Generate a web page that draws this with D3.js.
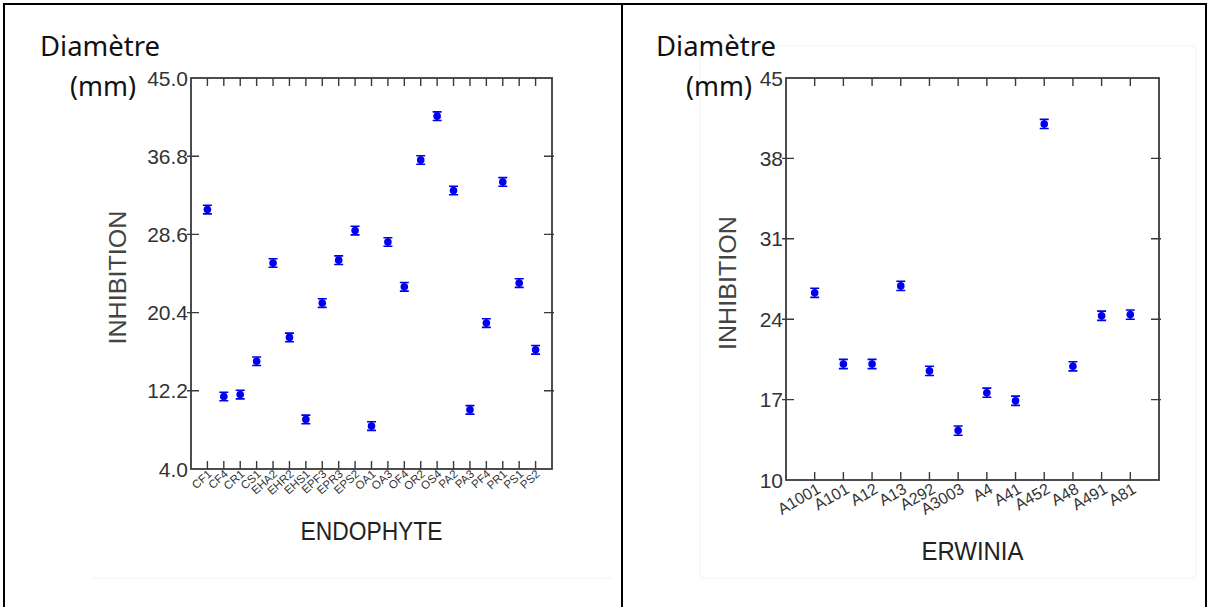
<!DOCTYPE html>
<html>
<head>
<meta charset="utf-8">
<title>Inhibition</title>
<style>
  body { margin: 0; background: #fff; }
  svg { font-family: "Liberation Sans", Arial, sans-serif; }
  .tick-label { fill: #333; }
  .unit { font-family: "Noto Sans", "Open Sans", sans-serif; fill: #111; font-weight: 400; }
</style>
</head>
<body>
<svg width="1209" height="607"></svg>
<script src="https://d3js.org/d3.v7.min.js"></script>
<script>
// Left panel: endophytes
const endoNames = ['CF1','CF4','CR1','CS1','EHA2','EHR2','EHS1','EPF3','EPR3','EPS2','OA1',
  'OA3','OF4','OR2','OS4','PA2','PA3','PF4','PR1','PS1','PS2'];
const endoValues = [31.2, 11.6, 11.8, 15.3, 25.6, 17.8, 9.2, 21.4, 25.9, 29.0, 8.5,
  27.8, 23.1, 36.4, 41.0, 33.2, 10.2, 19.3, 34.1, 23.5, 16.5];
const endoErr = 0.45;
const endoTicks = [4.0, 12.2, 20.4, 28.6, 36.8, 45.0];

// Right panel: Erwinia
const erwNames = ['A1001','A101','A12','A13','A292','A3003','A4','A41','A452','A48','A491','A81'];
const erwValues = [26.3, 20.1, 20.1, 26.9, 19.5, 14.3, 17.6, 16.9, 41.0, 19.9, 24.3, 24.4];
const erwErr = 0.4;
const erwTicks = [10, 17, 24, 31, 38, 45];

const svg = d3.select('svg');

// table borders
svg.append('path')
  .attr('d', 'M4,607 V4 H1206 V607 M622,4 V607')
  .attr('fill', 'none').attr('stroke', '#000').attr('stroke-width', 2);

// faint picture edges
svg.append('path')
  .attr('d', 'M92,578 H612 M700,46 H1196 V578 H700 Z')
  .attr('fill', 'none').attr('stroke', '#f2f2f2').attr('stroke-width', 1);

function panel(opt) {
  const g = svg.append('g');
  const x = d3.scalePoint().domain(opt.names).range([opt.left, opt.right]).padding(1);
  const y = d3.scaleLinear().domain([opt.ticks[0], opt.ticks[opt.ticks.length - 1]])
    .range([opt.bottom, opt.top]);

  // frame
  g.append('rect')
    .attr('x', opt.left).attr('y', opt.top)
    .attr('width', opt.right - opt.left).attr('height', opt.bottom - opt.top)
    .attr('fill', 'none').attr('stroke', '#3a3a3a').attr('stroke-width', 1.8);

  // x ticks, top and bottom, pointing in
  g.selectAll('.xt').data(opt.names).join('path')
    .attr('d', d => `M${x(d)},${opt.top} v8 M${x(d)},${opt.bottom} v-8`)
    .attr('stroke', '#3a3a3a').attr('stroke-width', 1.4);

  // y ticks on both sides
  g.selectAll('.yt').data(opt.ticks.slice(1, -1)).join('path')
    .attr('d', d => `M${opt.left - 4},${y(d)} h12 M${opt.right + 2},${y(d)} h-10`)
    .attr('stroke', '#3a3a3a').attr('stroke-width', 1.4);

  g.selectAll('.yl').data(opt.ticks).join('text')
    .attr('class', 'tick-label')
    .attr('x', opt.left - 3).attr('y', d => y(d)).attr('dy', '0.36em')
    .attr('text-anchor', 'end').attr('font-size', opt.yFont)
    .text(d => opt.fmt(d));

  g.selectAll('.xl').data(opt.names).join('text')
    .attr('class', 'tick-label')
    .attr('font-size', opt.xFont).attr('text-anchor', 'end')
    .attr('transform', d => `translate(${x(d) + opt.xShift},${opt.bottom + opt.xDrop}) rotate(${opt.xRot})`)
    .text(d => d);

  // error bars and points
  const pts = g.selectAll('.pt').data(opt.names.map((n, i) => ({ n, v: opt.values[i] }))).join('g');
  pts.append('path')
    .attr('d', d => {
      const cx = x(d.n), y0 = y(d.v - opt.err), y1 = y(d.v + opt.err);
      return `M${cx - 4.5},${y1} h9 M${cx},${y1} V${y0} M${cx - 4.5},${y0} h9`;
    })
    .attr('stroke', '#0000ee').attr('stroke-width', 1.6).attr('fill', 'none');
  pts.append('circle')
    .attr('cx', d => x(d.n)).attr('cy', d => y(d.v)).attr('r', 3.8)
    .attr('fill', '#0000ee');

  // axis titles
  g.append('text')
    .attr('transform', `translate(${opt.yTitleX},${(opt.top + opt.bottom) / 2 + 4}) rotate(-90)`)
    .attr('text-anchor', 'middle').attr('font-size', 24).attr('fill', '#444')
    .attr('textLength', 134).attr('lengthAdjust', 'spacingAndGlyphs')
    .text('INHIBITION');
  g.append('text')
    .attr('x', (opt.left + opt.right) / 2).attr('y', opt.xTitleY)
    .attr('text-anchor', 'middle').attr('font-size', 26).attr('fill', '#222')
    .attr('textLength', opt.xTitleLen).attr('lengthAdjust', 'spacingAndGlyphs')
    .text(opt.xTitle);

  // unit label
  g.append('text').attr('class', 'unit')
    .attr('x', opt.unitX).attr('y', 56).attr('font-size', 28)
    .attr('textLength', 120).attr('lengthAdjust', 'spacingAndGlyphs')
    .text('Diamètre');
  g.append('text').attr('class', 'unit')
    .attr('x', opt.unitX + 30).attr('y', 96).attr('font-size', 28)
    .attr('textLength', 66).attr('lengthAdjust', 'spacingAndGlyphs')
    .text('(mm)');
}

panel({
  names: endoNames, values: endoValues, err: endoErr, ticks: endoTicks,
  left: 191, right: 552, top: 78, bottom: 469,
  fmt: d3.format('.1f'), yFont: 21, xFont: 11.5, xRot: -42, xShift: 5, xDrop: 6,
  yTitleX: 126, xTitle: 'ENDOPHYTE', xTitleY: 540, xTitleLen: 142, unitX: 40
});

panel({
  names: erwNames, values: erwValues, err: erwErr, ticks: erwTicks,
  left: 786, right: 1159, top: 78, bottom: 480,
  fmt: d3.format('d'), yFont: 21, xFont: 16, xRot: -30, xShift: 7, xDrop: 12,
  yTitleX: 736, xTitle: 'ERWINIA', xTitleY: 560, xTitleLen: 102, unitX: 656
});
</script>
</body>
</html>
